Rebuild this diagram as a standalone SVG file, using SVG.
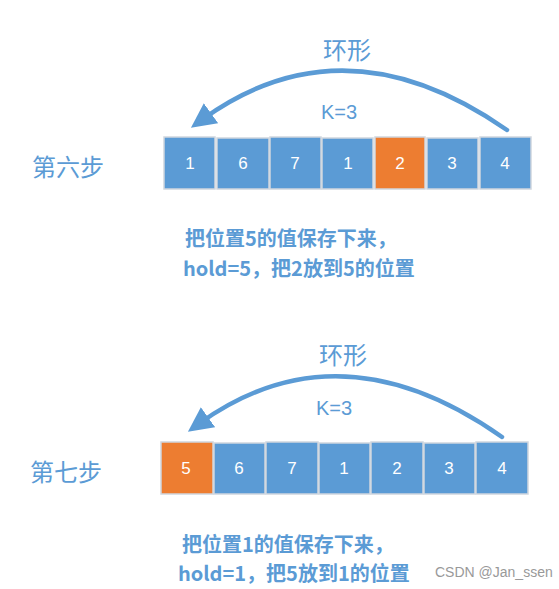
<svg xmlns="http://www.w3.org/2000/svg" width="559" height="589" viewBox="0 0 559 589">
<style>
.b{fill:#5b9bd5;stroke:#d0d6de;stroke-width:1.5}
.o{fill:#ed7d31;stroke:#d0d6de;stroke-width:1.5}
.n{font-family:"Liberation Sans",Arial,sans-serif;font-size:17px;fill:#fff;text-anchor:middle}
.t{font-family:"Noto Sans CJK SC","Noto Sans",sans-serif;fill:#5b9bd5}
.k{font-family:"Liberation Sans",Arial,sans-serif;fill:#5b9bd5;font-size:20px;text-anchor:middle}
.arc{fill:none;stroke:#5b9bd5;stroke-width:4.5;stroke-linecap:round}
</style>
<defs>
<marker id="ah" viewBox="0 0 10 10" refX="4" refY="5" markerWidth="5.5" markerHeight="5.5" orient="auto" markerUnits="strokeWidth">
<path d="M0,0 L10,5 L0,10 z" fill="#5b9bd5"/>
</marker>
</defs>
<rect width="559" height="589" fill="#fff"/>
<g id="step6">
<text class="t" x="32" y="176" font-size="24">第六步</text>
<text class="t" x="347" y="59" font-size="24" text-anchor="middle">环形</text>
<text class="k" x="339" y="119">K=3</text>
<g id="r6">
<rect class="b" x="164" y="137" width="51" height="52"/><text class="n" x="190" y="169">1</text>
<rect class="b" x="217" y="138" width="52" height="51"/><text class="n" x="243" y="169">6</text>
<rect class="b" x="270" y="137" width="51" height="52"/><text class="n" x="295" y="169">7</text>
<rect class="b" x="322" y="138" width="51" height="51"/><text class="n" x="348" y="169">1</text>
<rect class="o" x="375" y="137" width="50" height="52"/><text class="n" x="400" y="169">2</text>
<rect class="b" x="427" y="138" width="51" height="51"/><text class="n" x="452" y="169">3</text>
<rect class="b" x="480" y="137" width="51" height="52"/><text class="n" x="505" y="169">4</text>
</g>
<text class="t" x="185" y="246" font-size="20" font-weight="bold">把位置5的值保存下来，</text>
<text class="t" x="183" y="276" font-size="20" font-weight="bold">hold=5，把2放到5的位置</text>
</g>
<g id="step7">
<text class="t" x="30" y="481" font-size="24">第七步</text>
<text class="t" x="343" y="364" font-size="24" text-anchor="middle">环形</text>
<text class="k" x="334" y="415">K=3</text>
<g id="r7">
<rect class="o" x="161" y="442" width="52" height="52"/><text class="n" x="186" y="474">5</text>
<rect class="b" x="214" y="443" width="51" height="51"/><text class="n" x="239" y="474">6</text>
<rect class="b" x="266" y="442" width="52" height="52"/><text class="n" x="292" y="474">7</text>
<rect class="b" x="319" y="443" width="51" height="51"/><text class="n" x="344" y="474">1</text>
<rect class="b" x="371" y="442" width="52" height="52"/><text class="n" x="397" y="474">2</text>
<rect class="b" x="424" y="443" width="51" height="51"/><text class="n" x="449" y="474">3</text>
<rect class="b" x="476" y="442" width="52" height="52"/><text class="n" x="502" y="474">4</text>
</g>
<text class="t" x="182" y="552" font-size="20" font-weight="bold">把位置1的值保存下来，</text>
<text class="t" x="178" y="581" font-size="20" font-weight="bold">hold=1，把5放到1的位置</text>
</g>
<g id="connectors">
<path class="arc" d="M507,130 Q345,17 203,119" marker-end="url(#ah)"/>
<path class="arc" d="M502,437 Q340,323 200,423" marker-end="url(#ah)"/>
</g>
<text x="435" y="577" font-family="Liberation Sans,Arial,sans-serif" font-size="14" fill="#999">CSDN @Jan_ssen</text>
</svg>
